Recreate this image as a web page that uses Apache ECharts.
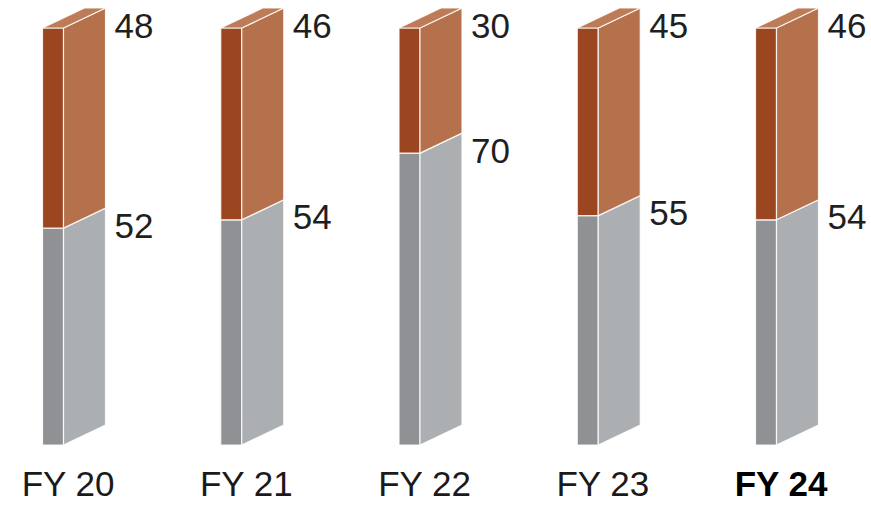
<!DOCTYPE html>
<html>
<head>
<meta charset="utf-8">
<script src="https://cdn.jsdelivr.net/npm/echarts@6/dist/echarts.min.js"></script>
<style>
  html, body { margin: 0; padding: 0; background: #ffffff; }
  #chart { width: 871px; height: 508px; }
</style>
</head>
<body>
<div id="chart"></div>
<script>
// Fiscal years and the two stacked shares (percent)
const years = ['FY 20', 'FY 21', 'FY 22', 'FY 23', 'FY 24'];
const baseShare = [52, 54, 70, 55, 54];
const topShare = [48, 46, 30, 45, 46];

// Prism geometry (pixels): front face width and the receding depth offset
const FRONT_W = 21;
const DEPTH_X = 42;
const DEPTH_Y = 20;

const palette = {
  base: { front: '#8f9195', side: '#acafb2', top: '#bfc1c4' },
  upper: { front: '#9b4521', side: '#b4714b', top: '#bd7c57' }
};
const EDGE = 'rgba(255,255,255,0.85)';
const FONT = '"Liberation Sans", Arial, Helvetica, sans-serif';

// One item per stacked segment: [categoryIndex, from, to, layer]
const segments = [];
years.forEach(function (y, i) {
  segments.push([i, 0, baseShare[i], 0]);
  segments.push([i, baseShare[i], baseShare[i] + topShare[i], 1]);
});

function renderPrism(params, api) {
  const i = api.value(0);
  const lo = api.value(1);
  const hi = api.value(2);
  const layer = api.value(3);
  const c = layer === 1 ? palette.upper : palette.base;

  const pLo = api.coord([i, lo]);
  const pHi = api.coord([i, hi]);
  const xl = pLo[0] - (FRONT_W + DEPTH_X) / 2;
  const xr = xl + FRONT_W;
  const y0 = pLo[1];
  const y1 = pHi[1];

  const children = [
    {
      type: 'polygon',
      shape: { points: [[xl, y1], [xr, y1], [xr, y0], [xl, y0]] },
      style: { fill: c.front, stroke: EDGE, lineWidth: 1.2 }
    },
    {
      type: 'polygon',
      shape: { points: [[xr, y0], [xr + DEPTH_X, y0 - DEPTH_Y], [xr + DEPTH_X, y1 - DEPTH_Y], [xr, y1]] },
      style: { fill: c.side, stroke: EDGE, lineWidth: 1.2 }
    }
  ];
  if (layer === 1) {
    children.push({
      type: 'polygon',
      shape: { points: [[xl, y1], [xr, y1], [xr + DEPTH_X, y1 - DEPTH_Y], [xl + DEPTH_X, y1 - DEPTH_Y]] },
      style: { fill: c.top, stroke: EDGE, lineWidth: 1.2 }
    });
  }
  children.push({
    type: 'text',
    style: {
      text: String(hi - lo),
      x: xl + 72,
      y: y1 - 3,
      verticalAlign: 'middle',
      align: 'left',
      fontSize: 35,
      fontFamily: FONT,
      fill: '#1f1f1f'
    }
  });
  return { type: 'group', children: children };
}

const chart = echarts.init(document.getElementById('chart'), null, { renderer: 'svg' });
chart.setOption({
  animation: false,
  backgroundColor: '#ffffff',
  grid: { left: 74, right: 84, top: 28, bottom: 63 },
  xAxis: {
    type: 'category',
    data: years,
    boundaryGap: false,
    axisLine: { show: false },
    axisTick: { show: false },
    axisLabel: {
      interval: 0,
      hideOverlap: false,
      margin: 21,
      padding: [0, 12, 0, 0],
      fontSize: 35,
      fontFamily: FONT,
      color: '#1a1a1a',
      formatter: function (v) {
        return v === 'FY 24' ? '{b|' + v + '}' : v;
      },
      rich: {
        b: { fontSize: 35, fontWeight: 'bold', fontFamily: FONT, color: '#000000' }
      }
    }
  },
  yAxis: {
    type: 'value',
    min: 0,
    max: 100,
    show: false
  },
  series: [{
    type: 'custom',
    renderItem: renderPrism,
    data: segments,
    encode: { x: 0, y: [1, 2] }
  }]
});
</script>
</body>
</html>
